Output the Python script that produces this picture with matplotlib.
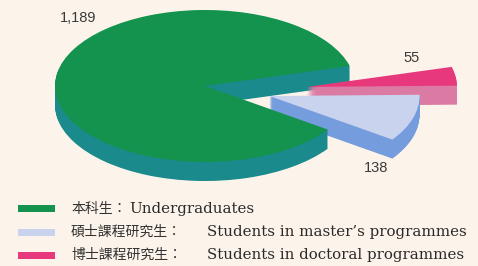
import matplotlib
matplotlib.use("Agg")
import numpy as np
import matplotlib.pyplot as plt
from matplotlib.patches import Rectangle

# ---- data ----
categories_zh = ["本科生：", "碩士課程研究生：", "博士課程研究生："]
categories_en = ["Undergraduates", "Students in master\u2019s programmes", "Students in doctoral programmes"]
values = [1189, 138, 55]
value_labels = ["1,189", "138", "55"]
top_colors = ["#14934f", "#c9d3ee", "#e8387c"]
side_colors = ["#1a8a8c", "#759cdc", "#db7ba3"]
explode = [0.0, 0.45, 0.68]
explode_dir = [None, None, -1.0]   # degrees; None -> radial (mid-angle)

W, H = 478, 266
BG = "#fcf4ea"
fig = plt.figure(figsize=(W / 100, H / 100), dpi=100, facecolor=BG)
ax = fig.add_axes([0, 0, 1, 1])
ax.set_facecolor(BG)

# pie geometry (pixels)
cx, cy, rx, ry, depth = 205, 86, 150, 76, 19

# pie drawn order: master's, doctoral, undergrad (counter-clockwise from -35 deg)
order = [1, 2, 0]
pv = [values[i] for i in order]
pe = [explode[i] for i in order]


def draw_layer(colors, off):
    wedges, _ = ax.pie(pv, explode=pe, startangle=-35, counterclock=True,
                       colors=colors, center=(0, off),
                       wedgeprops=dict(linewidth=0), frame=True)
    for w, i in zip(wedges, order):
        d = explode_dir[i]
        if d is not None:
            e = explode[i]
            w.set_center((e * np.cos(np.radians(d)), off + e * np.sin(np.radians(d))))


nlayers = 26
for k in range(nlayers, 0, -1):
    draw_layer([side_colors[i] for i in order], -depth / ry * k / nlayers)
draw_layer([top_colors[i] for i in order], 0.0)

ax.set_aspect("auto")
ax.set_xlim(-cx / rx, (W - cx) / rx)
ax.set_ylim(-(H - cy) / ry, cy / ry)
ax.axis("off")

# value labels (pixel positions)
lbl_pos = [(78, 18), (376, 168), (412, 58)]
for (x, y), t in zip(lbl_pos, value_labels):
    fig.text(x / W, 1 - y / H, t, ha="center", va="center",
             fontsize=10.5, family="Liberation Sans", color="#3a3a3a")

# legend
rows_y = [208.5, 232, 255]
for yy, c, zh, en, ex in zip(rows_y, top_colors, categories_zh, categories_en, [129, 207, 207]):
    fig.patches.append(Rectangle((18 / W, 1 - (yy + 3.5) / H), 37 / W, 7 / H,
                                 transform=fig.transFigure, facecolor=c, edgecolor="none"))
    fig.text(71 / W, 1 - yy / H, zh, ha="left", va="center", fontsize=10,
             family=["Noto Sans CJK TC", "DejaVu Sans"], color="#333333")
    fig.text(ex / W, 1 - yy / H, en, ha="left", va="center", fontsize=10.8,
             family=["DejaVu Serif"], color="#2a2a2a")

fig.savefig("out.png", dpi=100, facecolor=BG)
